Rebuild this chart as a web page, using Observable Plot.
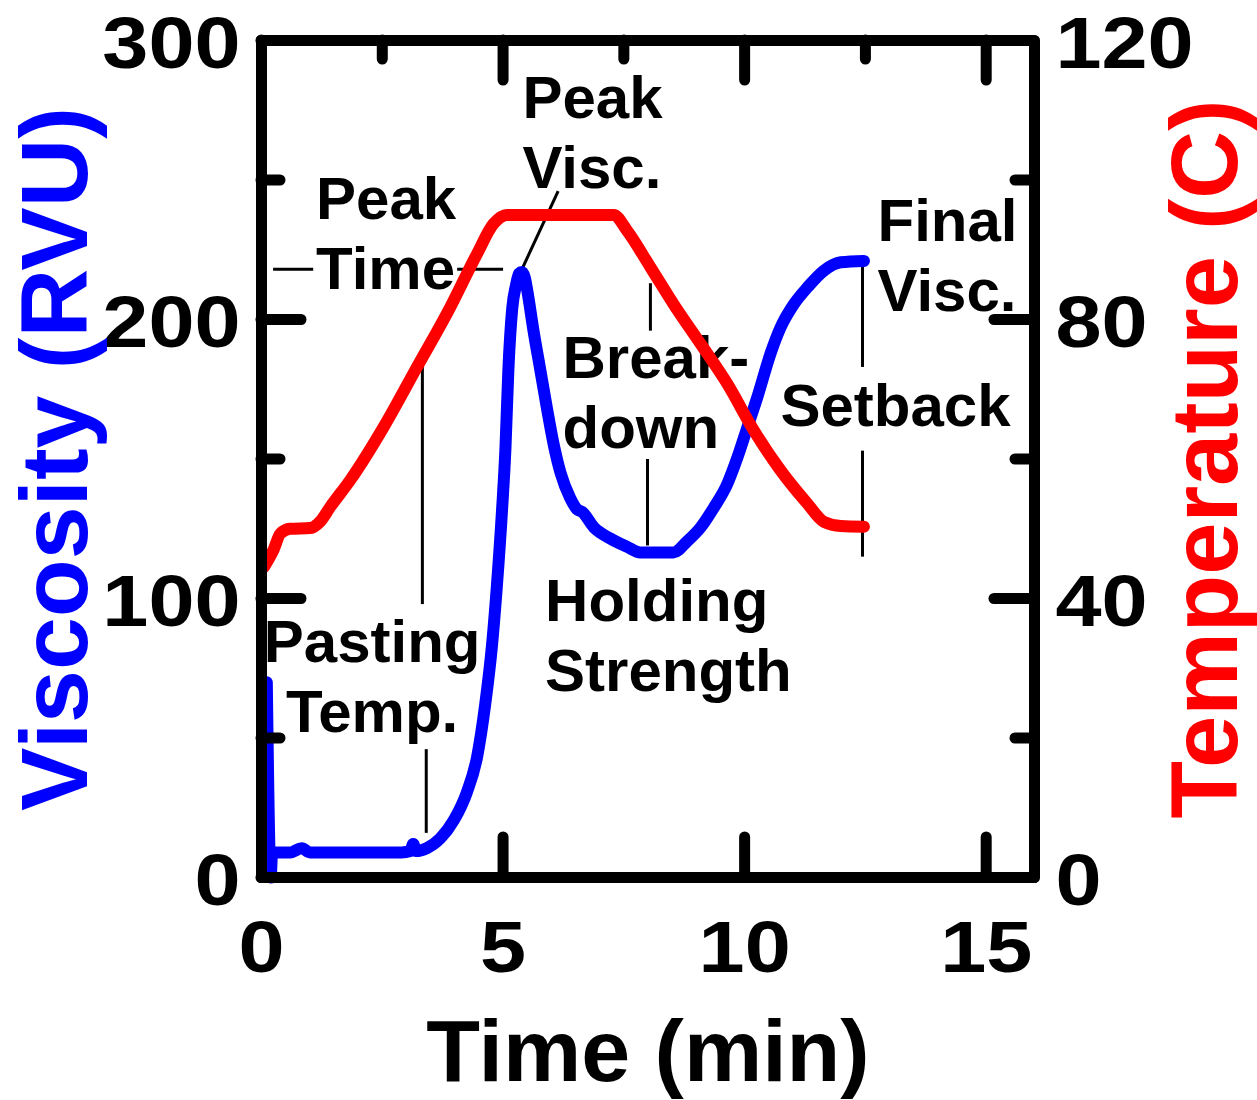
<!DOCTYPE html>
<html>
<head>
<meta charset="utf-8">
<script src="https://cdn.jsdelivr.net/npm/d3@7"></script>
<script src="https://cdn.jsdelivr.net/npm/@observablehq/plot@0.6"></script>
<style>
  body { margin: 0; background: #fff; }
  svg { display: block; }
</style>
</head>
<body>
<div id="chart"></div>
<script>
// RVA pasting profile: viscosity (RVU) and paddle temperature (°C) against time (min)
const viscTime = [0.11, 0.19, 0.22, 0.6, 0.83, 1.0, 2.0, 2.9, 3.08, 3.14, 3.2, 3.42, 3.70, 3.98, 4.25, 4.46, 4.63, 4.77, 4.87, 4.98, 5.05, 5.11, 5.19, 5.27, 5.33, 5.39, 5.45, 5.50, 5.63, 5.77, 5.91, 6.05, 6.19, 6.39, 6.53, 6.64, 6.88, 7.22, 7.57, 7.84, 8.2, 8.53, 8.81, 9.09, 9.36, 9.64, 9.85, 10.05, 10.26, 10.54, 10.74, 11.02, 11.30, 11.64, 11.99, 12.47];
const viscRVU  = [70, 0, 9, 9, 10.5, 9, 9, 9, 9.5, 12, 9.5, 10.5, 14, 20.5, 30.5, 43, 62, 83, 104, 132, 154, 182, 204, 212.5, 216.5, 217, 215, 210.5, 196, 182, 168, 155, 145, 136, 132, 131, 125.5, 121.5, 118.5, 116.5, 116.5, 116.5, 120.5, 125.5, 132.5, 141, 150.5, 161, 172, 188, 197, 205.5, 211.5, 217.5, 220.5, 221];

const tempTime = [0.05, 0.25, 0.39, 0.59, 1.01, 1.21, 1.42, 1.84, 2.53, 3.22, 3.91, 4.46, 4.80, 5.08, 6.0, 7.0, 7.29, 7.57, 8.05, 8.53, 9.09, 9.64, 10.19, 10.74, 11.30, 11.64, 11.99, 12.47];
const tempC    = [44.5, 47, 49.3, 50, 50.1, 51, 53.1, 57, 64.6, 73.2, 81.8, 89.4, 93.7, 95, 95, 95, 95, 92.7, 87.5, 82.2, 76.5, 70.8, 64.1, 58.4, 53.6, 51, 50.4, 50.3];

// axis ticks
const timeTicks = [0, 5, 10, 15];
const timeMinorTicks = [2.5, 7.5, 12.5];
const viscTicks = [0, 100, 200, 300];
const viscMinorTicks = [50, 150, 250];
const tempTicks = [0, 40, 80, 120];

// annotation labels (anchored at time, viscosity)
const noteText = ["Peak\nTime", "Peak\nVisc.", "Final\nVisc.", "Break-\ndown", "Holding\nStrength", "Setback"];
const noteTime = [1.13, 5.40, 12.75, 6.23, 5.87, 10.74];
const noteVisc = [211, 247, 203, 154, 67, 162];
const pastingText = "Pasting\nTemp.";
const pastingTime = 2.29;
const pastingVisc = 52.3;

// leader lines [time1, visc1, time2, visc2]
const leaderT1 = [0.24, 4.05, 6.14, 8.05, 7.99, 3.33, 3.41, 12.44, 12.44];
const leaderV1 = [218, 218, 246, 213, 150, 185.5, 46, 219, 153];
const leaderT2 = [1.07, 5.00, 5.39, 8.05, 7.99, 3.33, 3.41, 12.44, 12.44];
const leaderV2 = [218, 218, 218, 196, 119, 98, 16, 183, 115];

// ---- layout ----
const W = 1257, H = 1100;
const mL = 261, mR = 223, mT = 40, mB = 223;
const xMax = 16, yMax = 300, tMax = 120;
const tempToVisc = yMax / tMax;
const pxX = xMax / (W - mL - mR);   // minutes per pixel
const pxY = yMax / (H - mT - mB);   // RVU per pixel
const majorLen = 40, minorLen = 19;
const font = "Liberation Sans, Arial, Helvetica, sans-serif";
const tickLabelStretch = 1.15;

const viscData = viscTime.map((t, i) => ({t, v: viscRVU[i]}));
const tempData = tempTime.map((t, i) => ({t, v: tempC[i] * tempToVisc}));
const notes = noteText.map((label, i) => ({label, t: noteTime[i], v: noteVisc[i]}));
const leaders = leaderT1.map((t1, i) => ({t1, v1: leaderV1[i], t2: leaderT2[i], v2: leaderV2[i]}));

const tickStyle = {stroke: "black", strokeWidth: 11, strokeLinecap: "round"};
const labelStyle = {fontSize: 72, fontWeight: "bold", fill: "black", ariaDescription: "tick-label"};

const chart = Plot.plot({
  width: W,
  height: H,
  marginLeft: mL,
  marginRight: mR,
  marginTop: mT,
  marginBottom: mB,
  style: {fontFamily: font, background: "white", overflow: "visible"},
  x: {domain: [0, xMax], axis: null},
  y: {domain: [0, yMax], axis: null},
  marks: [
    // annotations
    Plot.text(notes, {x: "t", y: "v", text: "label", textAnchor: "start", lineAnchor: "bottom",
      lineHeight: 70 / 60, fontSize: 60, fontWeight: "bold", fill: "black"}),
    Plot.text([pastingText], {x: () => pastingTime, y: () => pastingVisc, text: d => d, textAnchor: "middle",
      lineAnchor: "bottom", lineHeight: 70 / 60, fontSize: 60, fontWeight: "bold", fill: "black"}),
    Plot.link(leaders, {x1: "t1", y1: "v1", x2: "t2", y2: "v2", stroke: "black", strokeWidth: 3}),

    // curves
    Plot.line(viscData, {x: "t", y: "v", stroke: "#0000ff", strokeWidth: 12, curve: "monotone-x",
      strokeLinecap: "round", strokeLinejoin: "round"}),
    Plot.line(tempData, {x: "t", y: "v", stroke: "#ff0000", strokeWidth: 12, curve: "monotone-x",
      strokeLinecap: "round", strokeLinejoin: "round"}),

    // frame and inward ticks
    Plot.frame({stroke: "black", strokeWidth: 11, strokeLinejoin: "round"}),
    Plot.ruleX(timeTicks, {x: d => d, y1: 0, y2: majorLen * pxY, ...tickStyle}),
    Plot.ruleX(timeTicks, {x: d => d, y1: yMax, y2: yMax - majorLen * pxY, ...tickStyle}),
    Plot.ruleX(timeMinorTicks, {x: d => d, y1: yMax, y2: yMax - minorLen * pxY, ...tickStyle}),
    Plot.ruleY(viscTicks, {y: d => d, x1: 0, x2: majorLen * pxX, ...tickStyle}),
    Plot.ruleY(viscMinorTicks, {y: d => d, x1: 0, x2: minorLen * pxX, ...tickStyle}),
    Plot.ruleY(viscTicks, {y: d => d, x1: xMax, x2: xMax - majorLen * pxX, ...tickStyle}),
    Plot.ruleY(viscMinorTicks, {y: d => d, x1: xMax, x2: xMax - minorLen * pxX, ...tickStyle}),

    // tick labels
    Plot.text(timeTicks, {x: d => d, text: d => String(d), frameAnchor: "bottom", dy: 43,
      lineAnchor: "top", textAnchor: "middle", ...labelStyle}),
    Plot.text(viscTicks, {y: d => d, text: d => String(d), frameAnchor: "left", dx: -21, dy: 4,
      lineAnchor: "middle", textAnchor: "end", ...labelStyle}),
    Plot.text(tempTicks, {y: d => d * tempToVisc, text: d => String(d), frameAnchor: "right", dx: 21, dy: 4,
      lineAnchor: "middle", textAnchor: "start", ...labelStyle}),

    // axis titles
    Plot.text(["Time (min)"], {frameAnchor: "bottom", dy: 203, lineAnchor: "bottom", textAnchor: "middle",
      text: d => d, fontSize: 88, fontWeight: "bold", fill: "black"}),
    Plot.text(["Viscosity (RVU)"], {frameAnchor: "left", dx: -175, rotate: -90, lineAnchor: "bottom",
      textAnchor: "middle", text: d => d, fontSize: 95, fontWeight: "bold", fill: "#0000ff"}),
    Plot.text(["Temperature (C)"], {frameAnchor: "right", dx: 202, rotate: -90, lineAnchor: "bottom",
      textAnchor: "middle", text: d => d, fontSize: 94, fontWeight: "bold", fill: "#ff0000"})
  ]
});

// widen the numeric tick labels
d3.select(chart)
  .selectAll('g[aria-description="tick-label"] text')
  .each(function () {
    const tr = this.getAttribute("transform") || "";
    this.setAttribute("transform", `${tr} scale(${tickLabelStretch},1)`);
  });

document.getElementById("chart").appendChild(chart);
</script>
</body>
</html>
